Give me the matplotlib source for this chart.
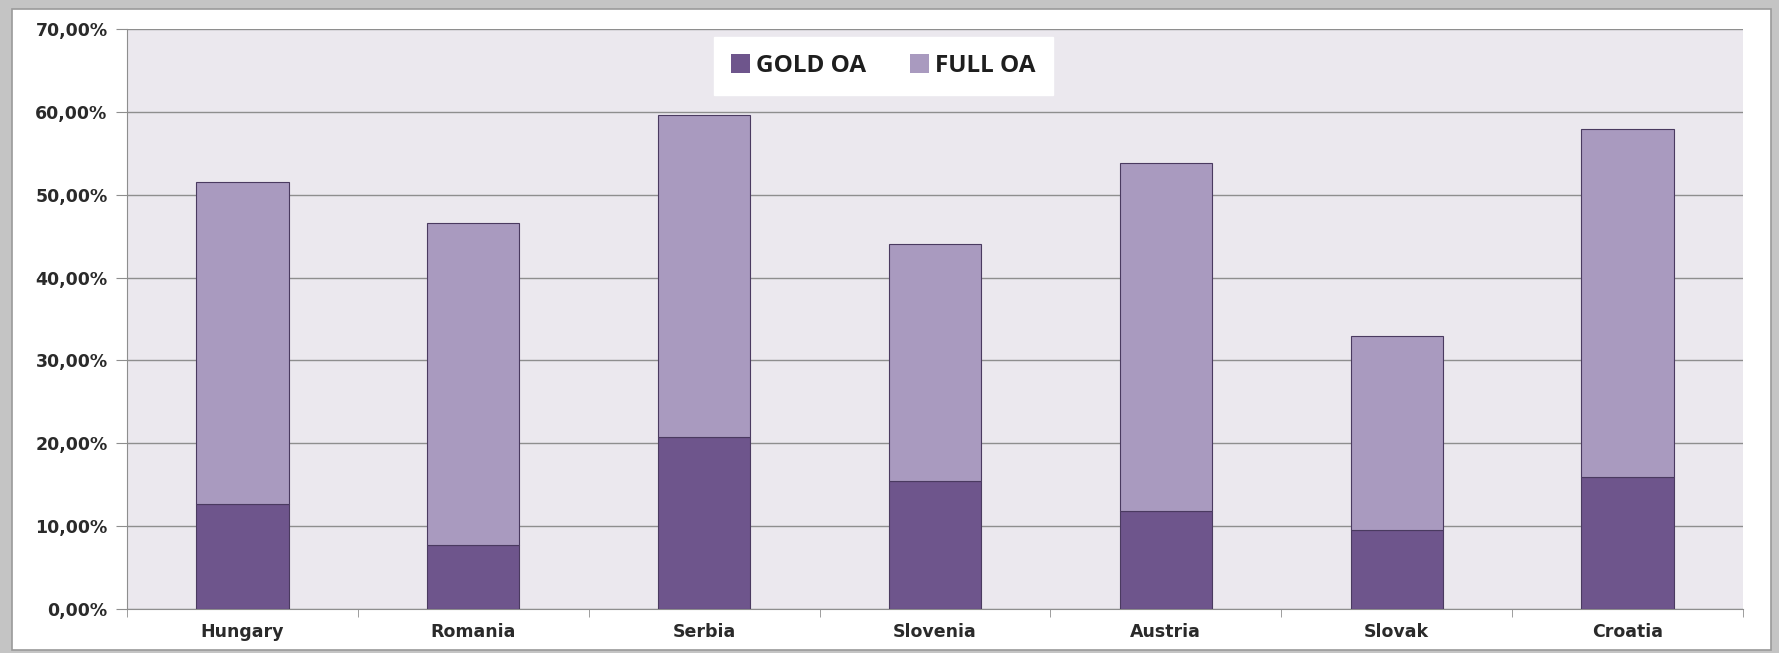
"""
plot.py

Stacked bars of GOLD OA and FULL OA shares per country.
"""

import matplotlib.pyplot as plt
from matplotlib.patches import Rectangle
import numpy as np

countries = ["Hungary", "Romania", "Serbia", "Slovenia", "Austria", "Slovak", "Croatia"]
gold_oa = [12.7, 7.7, 20.7, 15.4, 11.8, 9.5, 15.9]
full_oa = [38.8, 38.9, 38.9, 28.6, 42.0, 23.4, 42.0]   # stacked on top of gold
y_ticks = [0, 10, 20, 30, 40, 50, 60, 70]

GOLD_COLOR = "#6e558c"
FULL_COLOR = "#a99abf"
EDGE_COLOR = "#4a3a60"
TEXT_COLOR = "#2a2a2a"


def main():
    fig = plt.figure(figsize=(17.79, 6.53), dpi=100)
    fig.patch.set_facecolor("#c4c4c4")

    # white chart area with thin frame (screenshot look)
    fig.patches.append(Rectangle((12 / 1779, 3 / 653), 1759 / 1779, 641 / 653,
                                 transform=fig.transFigure, facecolor="white",
                                 edgecolor="#9a9a9a", linewidth=1.2, zorder=-5))

    ax = fig.add_axes([127 / 1779, 44 / 653, (1743 - 127) / 1779, (609 - 29) / 653])
    ax.set_facecolor("#ebe8ee")

    x = np.arange(len(countries))
    ax.bar(x, gold_oa, width=0.40, color=GOLD_COLOR, edgecolor=EDGE_COLOR,
           linewidth=0.8, label="GOLD OA", zorder=3)
    ax.bar(x, full_oa, width=0.40, bottom=gold_oa, color=FULL_COLOR,
           edgecolor=EDGE_COLOR, linewidth=0.8, label="FULL OA", zorder=3)

    ax.set_xlim(-0.5, len(countries) - 0.5)
    ax.set_ylim(0, 70)
    ax.set_yticks(y_ticks)
    ax.set_yticklabels([f"{v:.2f}%".replace(".", ",") for v in y_ticks],
                       fontsize=12.5, fontweight="bold", color=TEXT_COLOR)
    ax.yaxis.grid(True, color="#8e8e8e", linewidth=1.0, zorder=1)
    ax.set_axisbelow(True)

    ax.set_xticks(x)
    ax.set_xticklabels(countries, fontsize=12.5, fontweight="bold", color=TEXT_COLOR)
    ax.set_xticks(np.arange(-0.5, len(countries)), minor=True)
    ax.tick_params(axis="x", which="major", length=0, pad=10)
    ax.tick_params(axis="x", which="minor", length=6, color="#8e8e8e", direction="out")
    ax.tick_params(axis="y", length=8, color="#8e8e8e", direction="out", pad=6)

    for side in ["top", "right"]:
        ax.spines[side].set_visible(False)
    ax.spines["left"].set_color("#8e8e8e")
    ax.spines["bottom"].set_color("#8e8e8e")

    leg = ax.legend(loc="upper center", bbox_to_anchor=(0.468, 0.986), ncol=2,
                    frameon=True, fancybox=False, handlelength=0.8,
                    handleheight=0.8, handletextpad=0.25, columnspacing=1.8,
                    borderpad=0.7, borderaxespad=0,
                    prop={"family": "Open Sans", "weight": "bold", "size": 17.5})
    leg.get_frame().set_facecolor("white")
    leg.get_frame().set_edgecolor("white")
    leg.get_frame().set_alpha(1.0)
    for h in leg.legend_handles:
        h.set_edgecolor("none")
    for t in leg.get_texts():
        t.set_color("#1e1e1e")

    fig.savefig("out.png", dpi=100, facecolor=fig.get_facecolor())


if __name__ == "__main__":
    main()
